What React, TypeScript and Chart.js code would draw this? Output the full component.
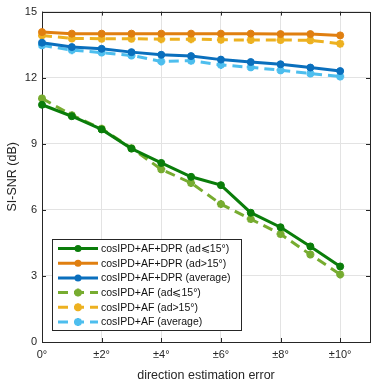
import React, { useEffect, useRef } from "react";
import { Chart, registerables } from "chart.js";
Chart.register(...registerables);

const xValues = [0, 1, 2, 3, 4, 5, 6, 7, 8, 9, 10];
const xTickValues = [0, 2, 4, 6, 8, 10];
const yTickValues = [0, 3, 6, 9, 12, 15];

const dprLow = [10.77, 10.25, 9.65, 8.78, 8.13, 7.5, 7.12, 5.87, 5.21, 4.34, 3.43];
const dprHigh = [14.07, 14.0, 14.0, 14.0, 14.0, 14.0, 14.0, 14.0, 13.98, 13.98, 13.92];
const dprAvg = [13.59, 13.39, 13.31, 13.16, 13.04, 12.98, 12.82, 12.71, 12.61, 12.46, 12.3];
const afLow = [11.06, 10.3, 9.68, 8.8, 7.84, 7.22, 6.26, 5.58, 4.9, 3.97, 3.07];
const afHigh = [13.92, 13.78, 13.77, 13.77, 13.75, 13.75, 13.72, 13.71, 13.71, 13.7, 13.54];
const afAvg = [13.47, 13.25, 13.14, 13.01, 12.74, 12.77, 12.58, 12.47, 12.34, 12.19, 12.05];

const labels = [
  "cosIPD+AF+DPR (ad\u2A7D15°)",
  "cosIPD+AF+DPR (ad>15°)",
  "cosIPD+AF+DPR (average)",
  "cosIPD+AF (ad\u2A7D15°)",
  "cosIPD+AF (ad>15°)",
  "cosIPD+AF (average)",
];
const colors = ["#0a7d0a", "#e07f10", "#0a6fbd", "#77ac30", "#edb120", "#4dbeee"];
const seriesValues = [dprLow, dprHigh, dprAvg, afLow, afHigh, afAvg];

const TXT = "#262626";
const FONT = "'Liberation Sans', Arial, sans-serif";

const framePlugin = {
  id: "frame",
  beforeDatasetsDraw(chart: any) {
    const { ctx, chartArea: a, scales } = chart;
    ctx.save();
    ctx.strokeStyle = TXT;
    ctx.lineWidth = 1;
    ctx.strokeRect(Math.round(a.left) + 0.5, Math.round(a.top) + 0.5, Math.round(a.right - a.left), Math.round(a.bottom - a.top));
    const tl = 4;
    ctx.beginPath();
    for (const v of yTickValues) {
      const y = Math.round(scales.y.getPixelForValue(v)) + 0.5;
      ctx.moveTo(a.left, y); ctx.lineTo(a.left + tl, y);
      ctx.moveTo(a.right, y); ctx.lineTo(a.right - tl, y);
    }
    for (const v of xTickValues) {
      const x = Math.round(scales.x.getPixelForValue(v)) + 0.5;
      ctx.moveTo(x, a.bottom); ctx.lineTo(x, a.bottom - tl);
      ctx.moveTo(x, a.top); ctx.lineTo(x, a.top + tl);
    }
    ctx.stroke();
    ctx.restore();
  },
  afterDatasetsDraw(chart: any) {
    const { ctx } = chart;
    ctx.save();
    const bx = 52, by = 239, bw = 189, bh = 91;
    ctx.fillStyle = "#ffffff";
    ctx.fillRect(bx, by, bw, bh);
    ctx.strokeStyle = TXT;
    ctx.lineWidth = 1;
    ctx.strokeRect(bx + 0.5, by + 0.5, bw, bh);
    chart.data.datasets.forEach((ds: any, i: number) => {
      const y = 248.5 + i * 14.7;
      ctx.strokeStyle = ds.borderColor;
      ctx.lineWidth = ds.borderWidth;
      ctx.setLineDash(ds.borderDash || []);
      ctx.beginPath();
      ctx.moveTo(58, y);
      ctx.lineTo(98, y);
      ctx.stroke();
      ctx.setLineDash([]);
      ctx.fillStyle = ds.borderColor;
      ctx.beginPath();
      if (ds.pointStyle === "circle") {
        ctx.arc(78, y, 3.5, 0, Math.PI * 2);
        ctx.fill();
      } else {
        ctx.lineWidth = 2.5;
        for (let k = 0; k < 4; k++) {
          const ang = (k * Math.PI) / 4;
          ctx.moveTo(78 - 4 * Math.cos(ang), y - 4 * Math.sin(ang));
          ctx.lineTo(78 + 4 * Math.cos(ang), y + 4 * Math.sin(ang));
        }
        ctx.stroke();
      }
      ctx.fillStyle = "#111";
      ctx.font = `10.5px ${FONT}`;
      ctx.textBaseline = "middle";
      ctx.textAlign = "left";
      ctx.fillText(ds.label, 101, y + 0.5);
    });
    ctx.restore();
  },
};

export default function App() {
  const ref = useRef<HTMLCanvasElement>(null);
  useEffect(() => {
    if (!ref.current) return;
    const datasets = seriesValues.map((vals, i) => {
      const dashed = i >= 3;
      return {
        label: labels[i],
        data: xValues.map((x, j) => ({ x, y: vals[j] })),
        borderColor: colors[i],
        backgroundColor: colors[i],
        borderWidth: 3,
        borderDash: dashed ? [10, 6] : [],
        pointStyle: dashed ? "star" : "circle",
        pointRadius: dashed ? 4 : 3.5,
        pointBorderWidth: dashed ? 2.5 : 1,
        pointBorderColor: colors[i],
        pointBackgroundColor: colors[i],
        tension: 0,
        clip: false,
        order: i < 3 ? 0 : 1,
      };
    });
    const chart = new Chart(ref.current, {
      type: "line",
      data: { datasets: datasets as any },
      options: {
        animation: false,
        responsive: false,
        maintainAspectRatio: false,
        layout: { padding: { top: 10, right: 12, left: 0, bottom: 0 } },
        plugins: { legend: { display: false }, tooltip: { enabled: false } },
        scales: {
          x: {
            type: "linear",
            min: 0,
            max: 11,
            afterBuildTicks: (s: any) => { s.ticks = xTickValues.map((v) => ({ value: v })); },
            afterFit: (s: any) => { s.height = 41; },
            grid: { color: "#e3e3e3", drawTicks: false, lineWidth: 1 },
            border: { display: false },
            ticks: {
              color: TXT,
              font: { family: FONT, size: 11 },
              padding: 6,
              maxRotation: 0,
              callback: (v: any) => (v === 0 ? "0°" : `±${v}°`),
            },
            title: {
              display: true,
              text: "direction estimation error",
              color: TXT,
              font: { family: FONT, size: 12.5 },
              padding: { top: 3, bottom: 0 },
            },
          },
          y: {
            min: 0,
            max: 15,
            afterBuildTicks: (s: any) => { s.ticks = yTickValues.map((v) => ({ value: v })); },
            afterFit: (s: any) => { s.width = 42; },
            grid: { color: "#e3e3e3", drawTicks: false, lineWidth: 1 },
            border: { display: false },
            ticks: {
              color: TXT,
              font: { family: FONT, size: 11 },
              padding: 5,
            },
            title: {
              display: true,
              text: "SI-SNR (dB)",
              color: TXT,
              font: { family: FONT, size: 12.5 },
              padding: { top: 5, bottom: 4 },
            },
          },
        },
      },
      plugins: [framePlugin],
    });
    return () => chart.destroy();
  }, []);
  return (
    <div style={{ position: "fixed", left: 0, top: 0, width: 382, height: 383, background: "#fff" }}>
      <canvas ref={ref} width={382} height={383} style={{ width: 382, height: 383 }} />
    </div>
  );
}
